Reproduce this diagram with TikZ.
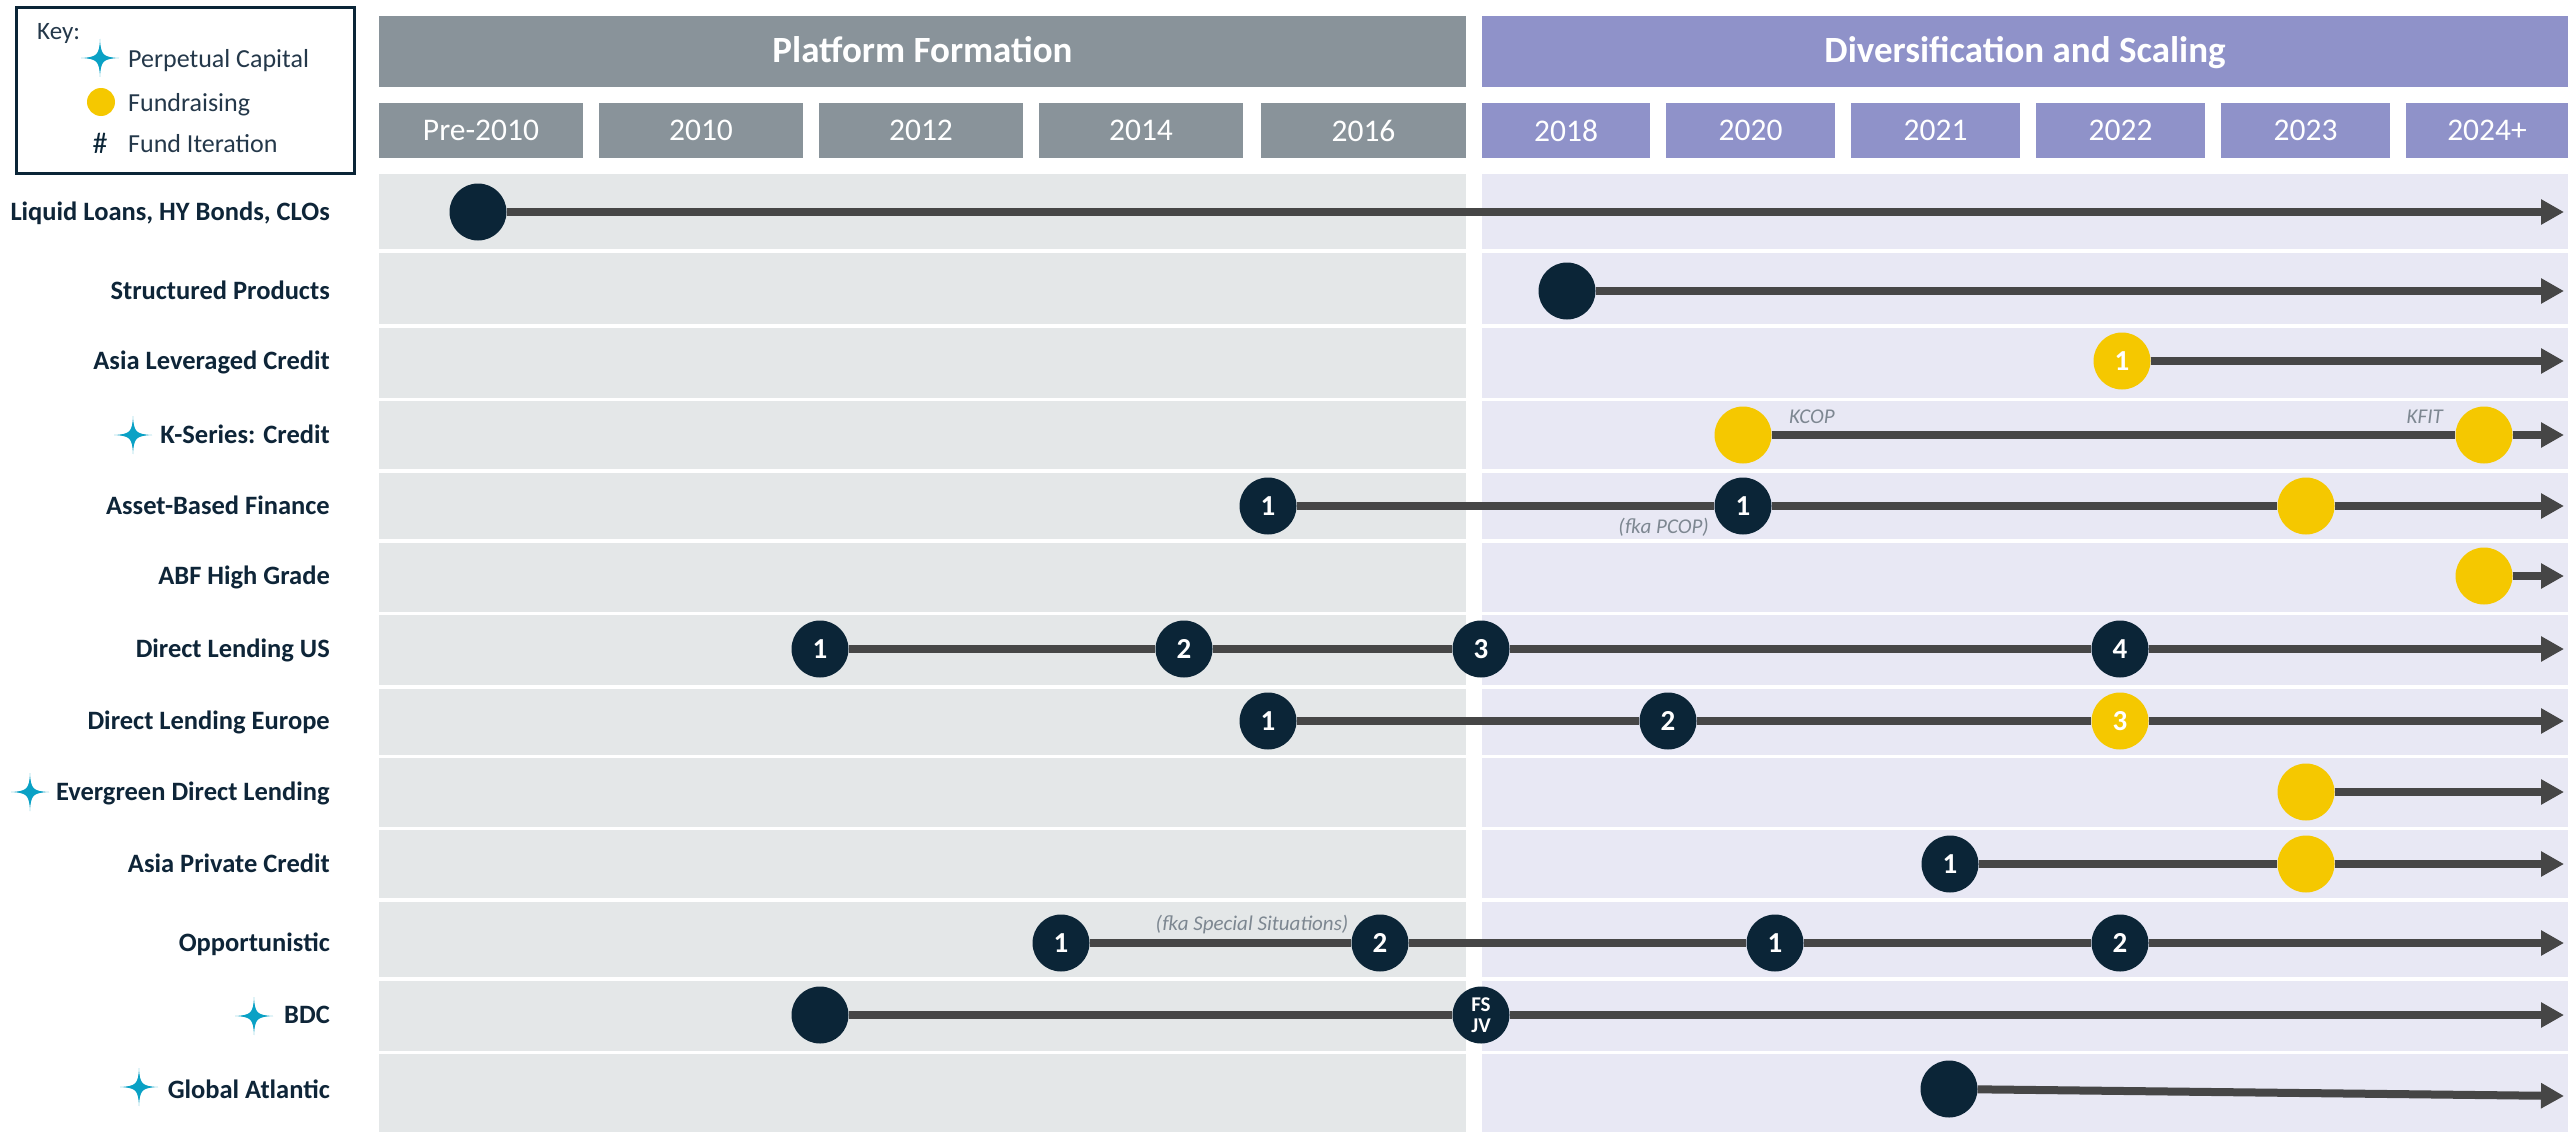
\documentclass[tikz,border=0pt]{standalone}
\usepackage{fontspec}
\setmainfont{Carlito}
\usetikzlibrary{arrows.meta}
\definecolor{navy}{HTML}{0B2537}
\definecolor{gold}{HTML}{F5C800}
\definecolor{hdrgray}{HTML}{89939A}
\definecolor{hdrlav}{HTML}{8F92C9}
\definecolor{graybg}{HTML}{E4E7E8}
\definecolor{lavbg}{HTML}{E8E8F4}
\definecolor{linec}{HTML}{464646}
\definecolor{starc}{HTML}{0AA1C5}
\definecolor{anno}{HTML}{7D8791}
\definecolor{lbltxt}{HTML}{0E2538}
\definecolor{keytxt}{HTML}{24384A}
\newcommand\myfs[1]{\fontsize{#1}{#1}\selectfont}
\tikzset{
  pstar/.pic={\fill[starc] (0,-19) .. controls (0.8,-3) and (3,-0.8) .. (19,0) .. controls (3,0.8) and (0.8,3) .. (0,19) .. controls (-0.8,3) and (-3,0.8) .. (-19,0) .. controls (-3,-0.8) and (-0.8,-3) .. (0,-19) -- cycle;},
  rowlbl/.style={anchor=base east, inner sep=0, text=lbltxt, font=\bfseries\myfs{26.5}},
  hdr/.style={minimum height=71pt, inner sep=0},
  hdrtxt/.style={anchor=base, inner sep=0, text=white, font=\bfseries\myfs{37}},
  yearbox/.style={minimum height=55pt, inner sep=0, text=white, font=\myfs{31.5}},
  dot/.style={circle, fill=navy, minimum size=57pt, inner sep=0, text=white, font=\bfseries\myfs{29}},
  ydot/.style={circle, fill=gold, minimum size=57pt, inner sep=0},
  conn/.style={draw=linec, line width=8pt},
  arr/.style={conn, -{Triangle[length=23pt,width=24pt]}},
  annot/.style={inner sep=0, text=anno, font=\itshape\myfs{21}},
  keylbl/.style={anchor=base west, inner sep=0, text=keytxt, font=\myfs{26}}
}
\begin{document}
\begin{tikzpicture}[x=1pt,y=-1pt]
\useasboundingbox (0,0) rectangle (2575,1132);
\fill[white] (0,0) rectangle (2575,1132);

% key
\draw[navy, line width=3pt] (16,8) rectangle (354,173);
\node[anchor=base west, inner sep=0, text=keytxt, font=\myfs{25}] (keyt) at (37,40) {Key:};
\pic at (100,58) {pstar};
\node[keylbl] (k1) at (128,67) {Perpetual Capital};
\node[circle, fill=gold, minimum size=28pt, inner sep=0] (kdot) at (101,102) {};
\node[keylbl] (k2) at (128,111) {Fundraising};
\node[inner sep=0, text=navy, font=\myfs{30}] (khash) at (100,143) {\#};
\node[keylbl] (k3) at (128,152) {Fund Iteration};

% phase headers
\node[hdr, fill=hdrgray, minimum width=1087pt] (ph1) at (922.5,51.5) {};
\node[hdrtxt] (ph1t) at (922.5,63) {Platform Formation};
\node[hdr, fill=hdrlav, minimum width=1086pt] (ph2) at (2025,51.5) {};
\node[hdrtxt] (ph2t) at (2025,63) {Diversification and Scaling};

% years
\node[yearbox, fill=hdrgray, minimum width=204pt] (ypre) at (481,130.5) {Pre-2010};
\node[yearbox, fill=hdrgray, minimum width=204pt] (y2010) at (701,130.5) {2010};
\node[yearbox, fill=hdrgray, minimum width=204pt] (y2012) at (921,130.5) {2012};
\node[yearbox, fill=hdrgray, minimum width=204pt] (y2014) at (1141,130.5) {2014};
\node[yearbox, fill=hdrgray, minimum width=205pt] (y2016) at (1363.5,130.5) {2016};
\node[yearbox, fill=hdrlav, minimum width=168pt] (y2018) at (1566,130.5) {2018};
\node[yearbox, fill=hdrlav, minimum width=169pt] (y2020) at (1750.5,130.5) {2020};
\node[yearbox, fill=hdrlav, minimum width=169pt] (y2021) at (1935.5,130.5) {2021};
\node[yearbox, fill=hdrlav, minimum width=169pt] (y2022) at (2120.5,130.5) {2022};
\node[yearbox, fill=hdrlav, minimum width=169pt] (y2023) at (2305.5,130.5) {2023};
\node[yearbox, fill=hdrlav, minimum width=162pt] (y2024) at (2487,130.5) {2024+};

% row backgrounds
\foreach \t/\b in {174/249,253/324,328/398,401/469,473/539,543/612,615/685,689/755,758/827,830/898,902/977,981/1051,1054/1132}{
  \fill[graybg] (379,\t) rectangle (1466,\b);
  \fill[lavbg] (1482,\t) rectangle (2568,\b);
}

% row labels
\node[rowlbl] (l1) at (330,220.5) {Liquid Loans, HY Bonds, CLOs};
\node[rowlbl] (l2) at (330,299.5) {Structured Products};
\node[rowlbl] (l3) at (330,369.5) {Asia Leveraged Credit};
\node[rowlbl] (l4) at (330,443.5) {K-Series: Credit};
\node[rowlbl] (l5) at (330,514.5) {Asset-Based Finance};
\node[rowlbl] (l6) at (330,584.5) {ABF High Grade};
\node[rowlbl] (l7) at (330,657.5) {Direct Lending US};
\node[rowlbl] (l8) at (330,729.5) {Direct Lending Europe};
\node[rowlbl] (l9) at (330,800.5) {Evergreen Direct Lending};
\node[rowlbl] (l10) at (330,872.5) {Asia Private Credit};
\node[rowlbl] (l11) at (330,951.5) {Opportunistic};
\node[rowlbl] (l12) at (330,1023.5) {BDC};
\node[rowlbl] (l13) at (330,1098.5) {Global Atlantic};
\pic at (133,435) {pstar};
\pic at (30,792) {pstar};
\pic at (254,1016) {pstar};
\pic at (139,1087) {pstar};

% arrow ends
\foreach \i/\y in {1/212,2/291,3/361,4/435,5/506,6/576,7/649,8/721,9/792,10/864,11/943,12/1015}{
  \coordinate (e\i) at (2564,\y);
}
\coordinate (e13) at (2564,1096);

% milestones
\node[dot] (a1) at (478,212) {};
\node[dot] (b1) at (1567,291) {};
\node[ydot] (c1) at (2122,361) {};
\node[inner sep=0, text=white, font=\bfseries\myfs{29}] at (c1) {1};
\node[ydot] (d1) at (1743,435) {};
\node[ydot] (d2) at (2484,435) {};
\node[dot] (f1) at (1268,506) {1};
\node[dot] (f2) at (1743,506) {1};
\node[ydot] (f3) at (2306,506) {};
\node[ydot] (g1) at (2484,576) {};
\node[dot] (h1) at (820,649) {1};
\node[dot] (h2) at (1184,649) {2};
\node[dot] (h3) at (1481,649) {3};
\node[dot] (h4) at (2120,649) {4};
\node[dot] (i1) at (1268,721) {1};
\node[dot] (i2) at (1668,721) {2};
\node[ydot] (i3) at (2120,721) {};
\node[inner sep=0, text=white, font=\bfseries\myfs{29}] at (i3) {3};
\node[ydot] (j1) at (2306,792) {};
\node[dot] (m1) at (1950,864) {1};
\node[ydot] (m2) at (2306,864) {};
\node[dot] (o1) at (1061,943) {1};
\node[dot] (o2) at (1380,943) {2};
\node[dot] (o3) at (1775,943) {1};
\node[dot] (o4) at (2120,943) {2};
\node[dot] (p1) at (820,1015) {};
\node[dot, align=center, font=\bfseries\myfs{21}] (p2) at (1481,1015) {\fontsize{21}{25}\selectfont FS\\JV};
\node[dot] (q1) at (1949,1089) {};

% connectors
\draw[arr] (a1) -- (e1);
\draw[arr] (b1) -- (e2);
\draw[arr] (c1) -- (e3);
\draw[conn] (d1) -- (d2);
\draw[arr] (d2) -- (e4);
\draw[conn] (f1) -- (f2);
\draw[conn] (f2) -- (f3);
\draw[arr] (f3) -- (e5);
\draw[arr] (g1) -- (e6);
\draw[conn] (h1) -- (h2);
\draw[conn] (h2) -- (h3);
\draw[conn] (h3) -- (h4);
\draw[arr] (h4) -- (e7);
\draw[conn] (i1) -- (i2);
\draw[conn] (i2) -- (i3);
\draw[arr] (i3) -- (e8);
\draw[arr] (j1) -- (e9);
\draw[conn] (m1) -- (m2);
\draw[arr] (m2) -- (e10);
\draw[conn] (o1) -- (o2);
\draw[conn] (o2) -- (o3);
\draw[conn] (o3) -- (o4);
\draw[arr] (o4) -- (e11);
\draw[conn] (p1) -- (p2);
\draw[arr] (p2) -- (e12);
\draw[arr] (q1) -- (e13);

% annotations
\node[annot, anchor=west] (kcop) at (1789,417) {KCOP};
\node[annot, anchor=east] (kfit) at (2443,417) {KFIT};
\node[annot, anchor=east] (pcop) at (1709,527) {(fka PCOP)};
\node[annot] (spsit) at (1252,925) {(fka Special Situations)};
\end{tikzpicture}
\end{document}
